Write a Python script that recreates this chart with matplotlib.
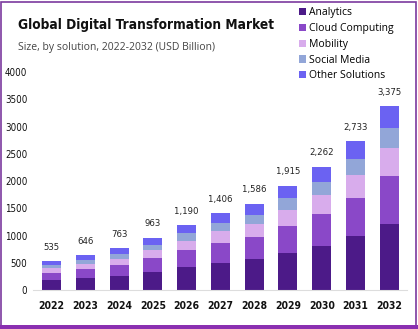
import numpy as np
import matplotlib
matplotlib.use("Agg")
import matplotlib.pyplot as plt
from matplotlib.patches import Rectangle

# 数据
years = ["2022", "2023", "2024", "2025", "2026", "2027", "2028", "2029", "2030", "2031", "2032"]
totals = [535, 646, 763, 963, 1190, 1406, 1586, 1915, 2262, 2733, 3375]
analytics = [181, 212, 266, 327, 417, 496, 563, 677, 804, 985, 1210]
cloud = [133, 175, 200, 259, 309, 362, 417, 503, 599, 708, 890]
mobility = [85, 97, 109, 140, 181, 218, 230, 290, 339, 412, 513]
social = [67, 73, 84, 109, 133, 158, 169, 218, 242, 296, 363]
other = [69, 89, 104, 128, 150, 172, 207, 227, 278, 332, 399]

names = ["Analytics", "Cloud Computing", "Mobility", "Social Media", "Other Solutions"]
colors = ["#4c1a88", "#8a48c8", "#d8acec", "#92a6d8", "#6b62f2"]
series = [analytics, cloud, mobility, social, other]

fig = plt.figure(figsize=(4.18, 3.29), dpi=100)
ax = fig.add_axes([0.079, 0.1185, 0.895, 0.6625])

x = np.arange(len(years))
bottom = np.zeros(len(years))
for vals, c, n in zip(series, colors, names):
    ax.bar(x, vals, 0.56, bottom=bottom, color=c, label=n)
    bottom += np.array(vals)

# 柱顶数值
for i, t in enumerate(totals):
    ax.text(x[i], t + 170, f"{t:,}", ha="center", va="bottom", fontsize=6.8,
            family="DejaVu Sans", stretch="condensed", color="#222222")

ax.set_xlim(-0.55, 10.53)
ax.set_ylim(0, 4000)
ax.set_yticks(range(0, 4001, 500))
ax.set_xticks(x)
ax.set_xticklabels(years, fontsize=7.5, color="#111111")
for lab in ax.get_xticklabels():
    lab.set_family("DejaVu Sans")
    lab.set_stretch("condensed")
    lab.set_fontweight("semibold")
for lab in ax.get_yticklabels():
    lab.set_family("DejaVu Sans")
    lab.set_stretch("condensed")
    lab.set_fontsize(7)
    lab.set_color("#111111")
ax.tick_params(axis="both", length=0)
ax.tick_params(axis="x", pad=8)
ax.tick_params(axis="y", pad=4)
for s in ["top", "right", "left"]:
    ax.spines[s].set_visible(False)
ax.spines["bottom"].set_color("#dddddd")

# 标题
fig.text(0.043, 0.925, "Global Digital Transformation Market", fontsize=9.8, fontweight="bold",
         family="DejaVu Sans", stretch="condensed", color="#111111", va="center")
fig.text(0.043, 0.857, "Size, by solution, 2022-2032 (USD Billion)", fontsize=7.5,
         family="Open Sans", color="#444444", va="center")

# 图例
ax.legend(loc="upper left", bbox_to_anchor=(0.705, 0.99), bbox_transform=fig.transFigure,
          frameon=False, handlelength=0.7, handleheight=0.7, handletextpad=0.3,
          labelspacing=0.45, borderaxespad=0, prop={"family": "Open Sans", "size": 7.5})

# 边框
fig.patches.append(Rectangle((0.002, 0.01), 0.993, 0.985, transform=fig.transFigure,
                             fill=False, edgecolor="#7b3a9e", linewidth=1.2))
fig.patches.append(Rectangle((0, 0), 1, 0.013, transform=fig.transFigure,
                             facecolor="#8a2fb0", edgecolor="none"))

fig.savefig("out.png", dpi=100)
